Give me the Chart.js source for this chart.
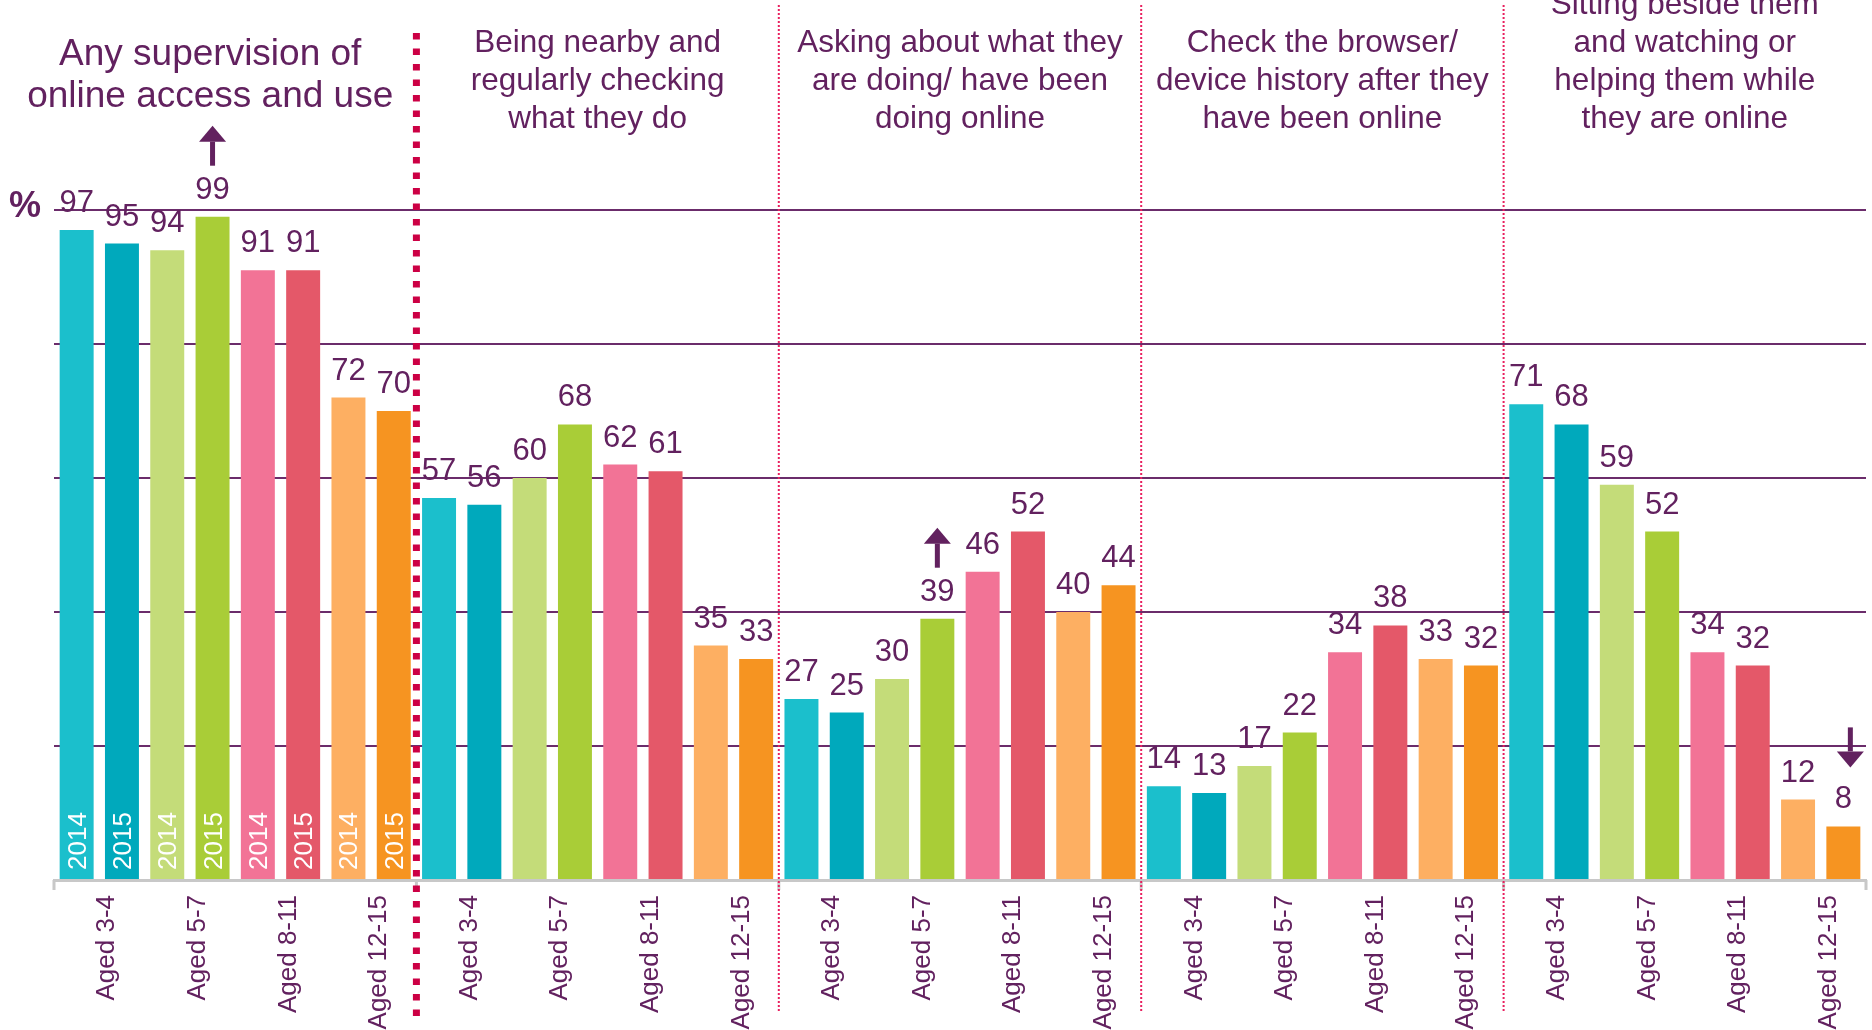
<!DOCTYPE html>
<html>
<head>
<meta charset="utf-8">
<script src="https://cdn.jsdelivr.net/npm/chart.js@4.4.1/dist/chart.umd.min.js"></script>
<style>
  html, body { margin: 0; padding: 0; background: #fff; }
  #wrap { width: 1872px; height: 1030px; }
</style>
</head>
<body>
<div id="wrap"><canvas id="myChart" width="1872" height="1030"></canvas></div>
<script>
// chart data
const ageGroups = ['Aged 3-4', 'Aged 5-7', 'Aged 8-11', 'Aged 12-15'];
const years = ['2014', '2015'];
const sectionTitles = [
    ['Any supervision of', 'online access and use'],
    ['Being nearby and', 'regularly checking', 'what they do'],
    ['Asking about what they', 'are doing/ have been', 'doing online'],
    ['Check the browser/', 'device history after they', 'have been online'],
    ['Sitting beside them', 'and watching or', 'helping them while', 'they are online']
];
const values2014 = [97, 94, 91, 72, 57, 60, 62, 35, 27, 30, 46, 40, 14, 17, 34, 33, 71, 59, 34, 12];
const values2015 = [95, 99, 91, 70, 56, 68, 61, 33, 25, 39, 52, 44, 13, 22, 38, 32, 68, 52, 32, 8];
const yTicks = [0, 20, 40, 60, 80, 100];
// significant changes marked with arrows (category index, year dataset, direction)
const arrows = [
    { index: 1, year: 1, dir: 'up' },
    { index: 9, year: 1, dir: 'up' },
    { index: 19, year: 1, dir: 'down' }
];

const categories = sectionTitles.flatMap(() => ageGroups);

const colors2014 = ['#1bbfcc', '#c4dc79', '#f27396', '#fdaf62'];
const colors2015 = ['#00a9bc', '#a9cd37', '#e45869', '#f69421'];
const purple = '#62215f';
const fontFamily = '"Liberation Sans", Arial, sans-serif';

Chart.defaults.font.family = fontFamily;

function drawArrow(ctx, x, tipY, tailY) {
    const dir = tipY < tailY ? 1 : -1;
    const headLen = 16;
    const baseY = tipY + dir * headLen;
    ctx.beginPath();
    ctx.moveTo(x, tipY);
    ctx.lineTo(x - 13.5, baseY);
    ctx.lineTo(x + 13.5, baseY);
    ctx.closePath();
    ctx.fill();
    ctx.fillRect(x - 2.5, Math.min(baseY, tailY), 5, Math.abs(tailY - baseY));
}

const decorations = {
    id: 'decorations',
    afterDatasetsDraw(chart) {
        const ctx = chart.ctx;
        const area = chart.chartArea;
        ctx.save();
        // value labels
        ctx.fillStyle = purple;
        ctx.font = '31px ' + fontFamily;
        ctx.textAlign = 'center';
        ctx.textBaseline = 'alphabetic';
        chart.data.datasets.forEach((ds, d) => {
            chart.getDatasetMeta(d).data.forEach((bar, i) => {
                ctx.fillText(ds.data[i], bar.x, bar.y - 18);
            });
        });
        // year labels inside the first group of bars
        ctx.fillStyle = '#fff';
        ctx.font = '26px ' + fontFamily;
        ctx.textAlign = 'left';
        chart.data.datasets.forEach((ds, d) => {
            chart.getDatasetMeta(d).data.slice(0, 4).forEach(bar => {
                ctx.save();
                ctx.translate(bar.x + 9, area.bottom - 10);
                ctx.rotate(-Math.PI / 2);
                ctx.fillText(ds.label, 0, 0);
                ctx.restore();
            });
        });
        ctx.restore();
    },
    afterDraw(chart) {
        const ctx = chart.ctx;
        const area = chart.chartArea;
        const xs = chart.scales.x;
        const n = ageGroups.length;

        const bounds = [area.left];
        for (let s = 1; s < sectionTitles.length; s++) {
            bounds.push((xs.getPixelForValue(s * n - 1) + xs.getPixelForValue(s * n)) / 2);
        }
        bounds.push(area.right);

        ctx.save();
        // axis ticks at section bounds
        ctx.fillStyle = '#c8c8c8';
        bounds.forEach(b => ctx.fillRect(b - 1.5, area.bottom, 3, 10));

        // separators
        ctx.lineCap = 'butt';
        bounds.slice(1, -1).forEach((b, i) => {
            ctx.beginPath();
            if (i === 0) {
                ctx.strokeStyle = '#cc0044';
                ctx.lineWidth = 7;
                ctx.setLineDash([6.5, 9]);
                ctx.moveTo(b, 33);
                ctx.lineTo(b, 1018);
            } else {
                ctx.strokeStyle = '#e8205e';
                ctx.lineWidth = 2;
                ctx.setLineDash([2, 2]);
                ctx.moveTo(b, 5);
                ctx.lineTo(b, 1012);
            }
            ctx.stroke();
        });
        ctx.setLineDash([]);

        // section titles
        ctx.fillStyle = purple;
        ctx.textAlign = 'center';
        ctx.textBaseline = 'alphabetic';
        sectionTitles.forEach((lines, s) => {
            const cx = (bounds[s] + bounds[s + 1]) / 2;
            if (s === 0) {
                ctx.font = '37px ' + fontFamily;
                lines.forEach((t, j) => ctx.fillText(t, cx - 25, 65 + j * 42));
            } else {
                ctx.font = '31.5px ' + fontFamily;
                lines.forEach((t, j) => ctx.fillText(t, cx, 128 - (lines.length - 1 - j) * 38));
            }
        });

        // % sign
        ctx.font = 'bold 36px ' + fontFamily;
        ctx.textAlign = 'left';
        ctx.fillText('%', 9, 217);

        // arrows
        arrows.forEach(a => {
            const bar = chart.getDatasetMeta(a.year).data[a.index];
            if (a.dir === 'up') {
                drawArrow(ctx, bar.x, bar.y - 91, bar.y - 51);
            } else {
                drawArrow(ctx, bar.x + 7, bar.y - 59, bar.y - 99);
            }
        });
        ctx.restore();
    }
};

const config = {
    type: 'bar',
    data: {
        labels: categories,
        datasets: [{
            label: years[0],
            data: values2014,
            backgroundColor: ctx => colors2014[ctx.dataIndex % 4]
        }, {
            label: years[1],
            data: values2015,
            backgroundColor: ctx => colors2015[ctx.dataIndex % 4]
        }]
    },
    options: {
        responsive: false,
        animation: false,
        devicePixelRatio: 1,
        layout: {
            padding: { left: 54, right: 6, top: 210, bottom: 0 }
        },
        datasets: {
            bar: { categoryPercentage: 1, barPercentage: 0.75 }
        },
        plugins: {
            legend: { display: false },
            tooltip: { enabled: false }
        },
        scales: {
            x: {
                grid: { display: false, drawTicks: false },
                border: { display: true, color: '#c8c8c8', width: 3 },
                ticks: {
                    autoSkip: false,
                    minRotation: 90,
                    maxRotation: 90,
                    padding: 15,
                    labelOffset: 8,
                    color: purple,
                    font: { size: 26 }
                },
                afterFit(scale) {
                    scale.height = 150;
                }
            },
            y: {
                min: yTicks[0],
                max: yTicks[yTicks.length - 1],
                afterBuildTicks(scale) {
                    scale.ticks = yTicks.map(v => ({ value: v }));
                },
                ticks: { display: false },
                grid: {
                    drawTicks: false,
                    lineWidth: 2,
                    color: ctx => ctx.tick && ctx.tick.value === 0 ? 'rgba(0,0,0,0)' : '#6b2c6b'
                },
                border: { display: false },
                afterFit(scale) {
                    scale.width = 0;
                }
            }
        }
    },
    plugins: [decorations]
};

const myChart = new Chart(document.getElementById('myChart'), config);
</script>
</body>
</html>
